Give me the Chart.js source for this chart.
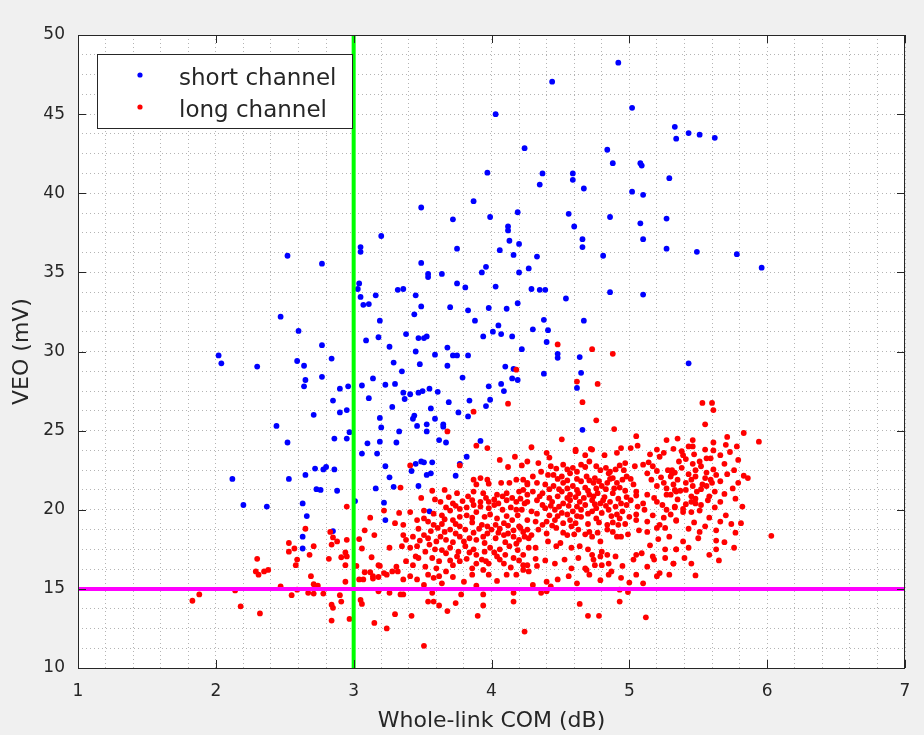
<!DOCTYPE html>
<html>
<head>
<meta charset="utf-8">
<title>VEO vs Whole-link COM</title>
<script src="https://cdn.jsdelivr.net/npm/chart.js@4"></script>
<style>
  body { margin: 0; background: #f0f0f0; }
  #contenedor_graf { width: 924px; height: 735px; }
</style>
</head>
<body>
<div id="contenedor_graf"><canvas id="myChart" width="924" height="735"></canvas></div>
<script>
const xRange = [1, 7];
const yRange = [10, 50];
const xTicks = [1, 2, 3, 4, 5, 6, 7];
const yTicks = [10, 15, 20, 25, 30, 35, 40, 45, 50];
const comLimit = 3;
const veoLimit = 15;
const seriesNames = ['short channel', 'long channel'];

// [COM dB, VEO mV]
const shortChannel = [
  [4.92,48.25],[4.44,47.05],[4.03,45.0],[5.02,45.4],[4.24,42.85],[4.84,42.75],[4.88,41.9],[5.33,44.2],
  [5.34,43.45],[5.43,43.8],[5.51,43.7],[5.62,43.5],[5.08,41.9],[5.09,41.75],[5.29,40.95],[5.02,40.1],
  [5.10,39.9],[5.27,38.4],[5.08,38.1],[5.10,37.1],[5.27,36.5],[5.49,36.3],[3.97,41.3],[4.37,41.25],
  [4.59,41.25],[4.59,40.85],[4.35,40.55],[4.67,40.3],[3.87,39.5],[3.49,39.1],[3.72,38.35],[3.99,38.5],
  [4.19,38.8],[4.56,38.7],[4.86,38.5],[4.12,37.9],[4.12,37.65],[4.60,37.9],[3.20,37.3],[4.66,37.1],
  [4.13,37.0],[4.20,36.8],[4.66,36.6],[3.05,36.6],[3.75,36.5],[4.06,36.4],
  [4.81,36.05],[5.78,36.15],[5.96,35.3],[4.86,33.75],[5.10,33.6],[5.43,29.25],
  [2.52,36.05],[3.05,36.3],[2.77,35.55],[3.04,34.3],[3.03,33.95],[3.05,33.45],[3.16,33.55],[3.32,33.9],
  [2.47,32.2],[3.07,32.95],[3.11,33.0],[3.19,31.95],[2.60,31.3],[3.09,30.7],[3.18,30.9],[2.77,30.4],
  [3.26,30.3],[2.02,29.75],[2.04,29.25],[2.30,29.05],[2.59,29.4],[2.64,29.1],[2.84,29.55],[3.29,29.3],
  [2.77,28.4],[2.65,28.2],[2.64,27.8],[3.14,28.3],[3.23,27.9],[3.30,27.95],[2.96,27.8],[2.90,27.65],
  [3.06,27.85],[2.85,26.9],[3.11,27.05],[3.28,26.5],[2.90,26.15],[2.95,26.3],[2.71,26.0],[3.19,25.8],
  [3.20,25.2],[2.44,25.3],[3.33,24.95],[2.97,24.9],[2.86,24.5],[2.95,24.5],[2.52,24.25],[3.10,24.2],
  [3.19,24.3],[3.31,24.25],
  [3.06,23.55],[3.17,23.55],[2.72,22.6],[2.78,22.55],[2.80,22.7],[2.86,22.55],[2.65,22.2],[2.12,21.95],
  [2.53,21.95],[2.73,21.3],[2.76,21.25],[2.88,21.2],[3.16,21.35],[2.20,20.3],[2.37,20.2],[2.63,20.4],
  [2.66,19.6],[2.85,18.65],[2.63,18.3],[2.63,17.55],[3.01,20.55],
  [4.16,36.1],[4.33,36.0],[3.49,35.6],[3.96,35.35],[3.93,35.0],[4.20,35.0],[4.27,35.25],[3.54,34.9],
  [3.54,34.7],[3.64,34.9],[3.75,34.3],[3.81,34.05],[4.03,34.1],[3.36,33.95],[4.29,33.95],[4.35,33.9],
  [4.39,33.9],[3.45,33.55],[4.54,33.35],[3.49,32.85],[3.70,32.8],[3.98,32.75],[4.11,32.7],[4.19,33.05],
  [3.44,32.35],[3.83,32.6],[3.88,31.95],[4.38,32.0],[4.67,31.95],[4.05,31.65],[4.30,31.4],[4.41,31.35],
  [3.38,31.1],[4.01,31.25],[4.07,31.1],[4.15,30.95],[3.94,30.95],[3.47,30.85],[3.51,30.85],[3.53,30.95],
  [4.40,30.6],[3.45,30.0],[3.68,30.25],[4.22,30.15],[3.59,29.8],[3.72,29.75],[3.75,29.75],[3.83,29.75],
  [4.48,29.85],[4.48,29.6],[4.64,29.65],[3.48,29.2],[3.68,29.1],[4.10,29.05],[4.16,28.9],[3.35,28.75],
  [4.38,28.6],[4.65,28.65],[3.79,28.35],[4.15,28.3],[4.19,28.2],[3.98,27.8],[4.07,27.95],[4.62,27.7],
  [3.36,27.4],[3.41,27.3],[3.47,27.4],[3.50,27.5],[3.55,27.65],[3.61,27.45],[4.09,27.5],[3.37,27.0],
  [3.84,26.9],[3.99,26.95],[3.56,26.4],[3.69,26.8],[3.96,26.55],[3.76,26.15],[3.83,25.9],[3.44,25.95],
  [3.43,25.75],[3.59,25.75],[3.46,25.3],[3.53,25.4],[3.65,25.4],[3.65,25.25],[3.53,24.95],[4.66,25.05],
  [3.62,24.4],[3.67,24.25],[3.92,24.35],
  [3.23,22.75],[3.42,22.45],[3.45,22.9],[3.49,23.05],[3.51,23.0],[3.57,23.0],[3.53,22.2],[3.56,22.3],
  [3.74,22.15],[3.77,22.9],[3.82,23.35],[3.26,22.05],[3.29,21.45],[3.47,21.5],[3.22,20.45],[3.55,19.9],
  [3.23,19.35]
];

const longChannel = [
  [4.48,30.45],[4.73,30.15],[4.88,29.85],[4.18,28.85],[4.62,28.1],[4.77,27.95],[4.12,26.7],[4.66,26.8],
  [4.76,25.65],[3.87,26.2],[3.68,24.95],[4.51,24.45],[3.89,24.05],[3.97,23.9],[4.29,23.95],[4.61,23.8],
  [4.72,23.85],[4.89,25.1],[5.53,26.75],[5.60,26.75],[5.61,26.3],[5.55,25.4],[5.05,24.65],[5.83,24.85],
  [5.27,24.4],[5.35,24.5],[5.46,24.4],[5.71,24.6],[5.94,24.3],[5.61,24.25],[4.94,23.9],[5.06,24.05],
  [5.43,24.0],[5.78,24.0],
  [2.95,20.2],[3.12,19.5],[2.65,18.8],[3.08,18.7],[3.15,18.4],[2.83,18.6],[2.85,18.25],[2.88,18.0],
  [2.95,18.1],[3.04,18.15],[2.53,17.9],[2.53,17.35],[2.57,17.55],[2.71,17.7],[2.84,17.8],[3.06,17.55],
  [2.94,17.3],[2.91,17.0],[2.95,17.05],[2.68,17.15],[2.82,16.9],[2.30,16.9],[2.59,16.85],[3.13,17.0],
  [2.58,16.5],[2.94,16.5],[3.02,16.45],[3.18,16.5],[2.29,16.1],[2.31,15.9],[2.35,16.1],[2.38,16.2],
  [2.69,15.8],[3.08,16.05],[3.12,16.05],[3.04,15.6],[3.07,15.6],[3.14,15.65],[3.18,15.75],[2.71,15.3],
  [2.74,15.2],[2.94,15.45],[2.47,15.15],[2.14,14.9],[2.59,14.95],[1.88,14.65],[1.83,14.25],[2.67,14.75],
  [2.71,14.7],[2.78,14.7],[2.55,14.6],[2.90,14.6],[3.05,14.3],[2.91,14.2],[3.06,14.05],[2.84,14.0],
  [2.85,13.8],[2.18,13.9],[2.32,13.45],[2.84,13.0],[2.97,13.1],[3.15,12.85],
  [3.41,22.8],[3.77,22.8],[4.06,23.15],[4.17,23.35],[4.26,23.05],[4.12,22.7],[4.22,22.8],[3.34,21.4],
  [3.87,21.9],[3.92,22.0],[3.97,21.9],[3.89,21.6],[3.98,21.65],[4.07,21.7],[4.13,21.7],[4.18,21.9],
  [4.26,21.7],[4.23,21.25],[3.57,21.2],[3.66,21.25],[3.75,21.05],[3.49,20.75],[3.59,20.65],[3.69,20.8],
  [3.87,21.15],[3.94,21.05],[4.04,20.95],[4.11,21.05],[4.20,21.15],[4.26,20.95],[3.86,20.6],[3.92,20.5],
  [3.98,20.5],[4.05,20.4],[4.11,20.6],[4.18,20.5],[4.24,20.4],[3.22,19.95],[3.33,19.8],[3.41,19.85],
  [3.51,19.95],[3.64,19.65],[3.70,19.95],[3.77,20.05],[3.82,20.15],[3.72,19.35],[3.77,19.55],[3.82,19.65],
  [3.89,19.85],[3.92,20.2],[3.95,19.55],[3.93,19.05],[3.97,18.95],[4.03,19.05],[4.09,19.15],[4.15,19.35],
  [4.20,18.95],[4.26,19.35],[4.23,18.6],[3.30,19.15],[3.36,19.05],[3.51,19.45],[3.54,19.25],[3.58,19.05],
  [3.61,18.85],[3.70,18.75],[3.77,18.95],[3.81,18.75],[3.36,18.4],[3.38,18.1],[3.43,18.3],[3.51,18.4],
  [3.54,18.2],[3.63,18.3],[3.67,18.1],[3.77,18.3],[3.84,18.2],[3.89,18.1],[3.94,18.3],[4.03,18.2],
  [4.09,18.4],[4.16,18.3],[4.20,18.1],[4.27,18.2],[3.35,17.7],[3.41,17.6],[3.46,17.7],[3.55,17.8],
  [3.59,17.5],[3.70,17.6],[3.81,17.7],[3.87,17.5],[3.99,17.6],[4.06,17.5],[4.13,17.7],[3.26,17.6],
  [3.45,17.05],[3.57,16.95],[3.67,17.25],[3.75,17.05],[3.89,17.15],[3.93,16.85],[4.04,17.05],[4.10,17.15],
  [4.16,16.95],[4.23,17.15],[3.43,16.5],[3.52,16.4],[3.60,16.3],[3.72,16.5],[3.86,16.3],[3.89,16.6],
  [3.98,16.6],[4.09,16.6],[4.26,16.5],[3.19,16.45],[3.31,16.4],[3.22,16.0],[3.28,16.1],[3.32,16.1],
  [3.14,15.8],[3.24,15.9],[3.36,15.6],[3.41,15.8],[3.46,15.6],[3.54,15.9],[3.58,15.7],[3.62,15.8],
  [3.67,16.1],[3.86,15.9],[3.98,15.9],[4.04,15.5],[4.11,15.9],[4.18,15.9],[4.23,16.2],[3.51,15.25],
  [3.18,14.85],[3.26,14.75],[3.34,14.65],[3.36,14.65],[3.57,14.75],[3.78,14.65],[3.94,14.65],[4.16,14.75],
  [3.54,14.2],[3.58,14.2],[3.62,13.95],[3.74,14.1],[3.94,13.95],[4.16,14.2],[3.30,13.4],[3.42,13.3],
  [3.68,13.6],[3.90,13.3],[3.24,12.5],[4.24,12.3],[3.51,11.4],
  [4.40,23.6],[4.42,23.3],[4.61,23.7],[4.68,23.45],[4.73,23.8],[4.82,23.45],[4.91,23.6],[5.01,23.9],
  [5.20,23.8],[4.43,22.75],[4.52,22.85],[4.59,22.65],[4.65,22.85],[4.71,23.05],[4.79,22.5],[4.86,22.4],
  [4.93,22.8],[4.96,22.5],[5.04,22.75],[5.10,22.85],[5.17,22.75],[5.22,23.35],[5.28,22.5],[5.31,22.3],
  [4.36,22.4],[4.23,21.9],[4.30,22.1],[4.45,22.2],[4.51,22.1],[4.57,22.3],[4.69,22.1],[4.75,22.0],
  [4.85,22.3],[4.88,22.0],[4.98,22.1],[5.13,22.3],[5.16,21.9],[4.26,21.6],[4.33,21.7],[4.39,21.6],
  [4.45,21.5],[4.52,21.7],[4.59,21.5],[4.65,21.8],[4.68,21.4],[4.74,21.7],[4.80,21.5],[4.84,21.7],
  [4.91,21.7],[4.93,21.4],[5.03,21.6],[5.05,21.15],[5.20,21.5],[5.25,21.7],[5.32,21.6],[4.30,21.15],
  [4.37,21.05],[4.51,21.15],[4.57,20.95],[4.63,21.05],[4.71,20.95],[4.77,21.05],[4.82,20.8],[4.88,21.05],
  [4.98,20.8],[5.13,20.95],[5.27,20.95],[5.34,21.15],[4.26,20.5],[4.33,20.6],[4.44,20.5],[4.52,20.4],
  [4.57,20.6],[4.64,20.5],[4.73,20.6],[4.79,20.4],[4.86,20.5],[4.94,20.4],[5.01,20.6],[5.10,20.4],
  [5.20,20.5],[5.27,20.0],[5.33,20.2],[4.22,20.0],[4.29,19.9],[4.39,20.1],[4.46,20.0],[4.51,19.8],
  [4.59,19.9],[4.65,20.0],[4.76,20.1],[4.80,19.8],[4.85,20.0],[4.91,19.7],[5.05,19.7],[5.11,20.0],
  [4.32,19.25],[4.40,19.25],[4.46,19.35],[4.57,19.35],[4.65,19.55],[4.76,19.45],[4.84,19.05],[4.93,19.45],
  [5.05,19.35],[5.13,19.25],[5.34,19.35],[4.21,18.85],[4.26,18.75],[4.34,18.75],[4.47,18.85],[4.58,18.95],
  [4.63,18.75],[4.71,18.6],[4.84,18.75],[4.92,19.05],[5.13,18.6],[5.20,18.85],[5.26,18.85],[4.24,18.3],
  [4.29,18.4],[4.41,18.0],[4.50,17.9],[4.55,18.4],[4.73,18.3],[4.79,18.0],[4.91,18.3],[4.94,18.3],
  [5.21,18.15],[4.27,17.6],[4.32,17.6],[4.47,17.7],[4.58,17.6],[4.64,17.7],[4.70,17.5],[4.80,17.35],
  [5.26,17.5],[5.34,17.5],[4.32,16.9],[4.39,16.8],[4.73,17.15],[4.74,16.85],[4.79,17.05],[4.84,17.15],
  [4.90,17.05],[5.05,17.15],[5.09,17.25],[5.03,16.85],[5.26,16.95],[4.23,16.5],[4.27,16.1],[4.58,16.3],
  [4.68,16.3],[4.75,16.5],[4.80,16.5],[4.85,16.6],[5.32,16.6],[4.56,15.8],[4.69,16.2],[4.71,15.9],
  [4.85,15.9],[4.87,16.1],[4.94,15.7],[5.05,15.9],[5.20,15.8],[5.22,16.0],[5.10,15.35],[4.62,15.35],
  [4.30,15.25],[4.40,15.45],[4.43,15.15],[4.36,14.75],[4.40,14.85],[4.93,14.95],[4.99,14.8],[4.64,14.05],
  [4.93,14.2],[4.70,13.3],[4.78,13.3],[5.12,13.2],
  [5.46,24.0],[5.38,23.7],[5.55,23.8],[5.61,23.75],[5.73,23.65],[5.39,23.45],[5.41,23.2],[5.51,23.05],
  [5.56,23.25],[5.59,23.25],[5.79,23.15],[5.46,22.9],[5.69,22.9],[5.31,22.5],[5.33,22.35],[5.48,22.5],
  [5.63,22.2],[5.83,22.15],[5.86,22.0],[5.30,22.1],[5.35,21.9],[5.45,21.9],[5.48,22.1],[5.55,22.0],
  [5.59,21.9],[5.41,21.7],[5.53,21.6],[5.56,21.5],[5.60,21.7],[5.79,21.7],[5.33,21.25],[5.37,21.2],
  [5.41,21.25],[5.49,21.15],[5.62,21.15],[5.69,21.0],[5.30,20.95],[5.35,20.65],[5.45,20.85],[5.48,20.7],
  [5.45,20.5],[5.48,20.4],[5.52,20.3],[5.66,20.5],[5.33,20.15],[5.39,20.05],[5.39,19.85],[5.45,19.85],
  [5.82,20.2],[5.70,19.65],[5.34,19.3],[5.74,19.1],[5.81,19.15],[5.43,18.8],[5.55,18.95],[5.51,18.6],
  [6.03,18.35],[5.39,18.0],[5.63,18.05],[5.69,17.95],[5.34,17.5],[5.63,17.5],[5.65,16.8],[5.32,16.6],
  [5.45,16.6],[5.48,15.85],
  // overlapping dots of the dense core
  [4.34,22.95],[4.47,22.6],[4.55,22.55],[4.62,22.4],[4.68,22.7],[4.76,22.75],[4.83,22.65],[4.90,22.55],
  [4.97,22.95],[4.41,22.2],[4.48,21.95],[4.55,21.85],[4.62,21.95],[4.71,21.85],[4.78,21.8],[4.86,21.95],
  [4.95,21.9],[5.01,21.95],[4.42,21.3],[4.49,21.3],[4.55,21.35],[4.62,21.25],[4.70,21.2],[4.76,21.35],
  [4.83,21.3],[4.89,21.35],[4.97,21.2],[4.35,20.85],[4.42,20.75],[4.48,20.85],[4.55,20.75],[4.61,20.8],
  [4.67,20.75],[4.74,20.85],[4.81,20.6],[4.92,20.7],[5.05,20.9],[4.37,20.3],[4.43,20.25],[4.49,20.2],
  [4.56,20.25],[4.62,20.2],[4.68,20.3],[4.75,20.35],[4.83,20.25],[4.90,20.2],[4.98,20.3],[5.06,20.2],
  [4.33,19.75],[4.42,19.65],[4.48,19.6],[4.55,19.7],[4.62,19.6],[4.70,19.75],[4.73,19.9],[4.87,19.6],
  [4.95,19.9],[5.00,19.55],[4.37,19.05],[4.44,19.0],[4.52,19.15],[4.61,19.15],[4.70,19.1],[4.78,19.2],
  [4.88,19.2],[4.97,19.1],[4.40,18.5],[4.52,18.55],[4.60,18.45],[4.68,18.45],[4.77,18.55],[4.88,18.6],
  [4.99,18.45],[5.07,18.7],
  [3.63,20.5],[3.72,20.4],[3.79,20.55],[3.83,20.85],[3.96,20.75],[4.02,20.65],[4.08,20.85],[4.15,20.75],
  [4.21,20.7],[3.67,20.15],[3.74,20.25],[3.87,20.3],[3.98,20.1],[4.02,20.3],[4.08,20.0],[4.14,20.15],
  [4.18,20.0],[3.58,19.75],[3.66,19.4],[3.86,19.5],[3.99,19.7],[4.04,19.45],[4.11,19.6],[4.19,19.65],
  [3.46,19.35],[3.64,19.1],[3.74,19.1],[3.86,19.2],[3.91,18.8],[4.00,18.75],[4.06,18.8],[4.12,19.0],
  [4.16,18.7],[3.47,18.8],[3.56,18.65],[3.66,18.6],[3.74,18.5],[3.87,18.55],[3.97,18.5],[4.05,18.55],
  [4.12,18.5],[3.48,18.05],[3.60,18.0],[3.72,17.95],[3.80,18.0],[3.95,17.9],[4.10,17.95],[4.18,17.85],
  [3.52,17.35],[3.64,17.45],[3.76,17.35],[3.84,17.3],[3.95,17.35],[4.02,17.3],[4.19,17.45],[3.62,16.75],
  [3.70,16.8],[3.82,16.9],[3.96,16.75],[4.06,16.85],[4.20,16.8],
  [5.15,23.5],[5.25,23.6],[5.32,23.85],[5.47,23.5],[5.66,23.45],[5.70,24.1],[5.14,23.0],[5.36,23.05],
  [5.52,22.75],[5.61,22.55],[5.76,22.5],[5.20,22.45],[5.38,22.65],[5.43,22.25],[5.56,22.35],[5.71,22.25],
  [5.23,22.05],[5.66,21.8],[5.75,21.35],[5.27,21.35],[5.46,21.5],[5.52,21.3],[5.58,20.85],[5.18,20.75],
  [5.24,20.3],[5.41,20.35],[5.57,20.6],[5.62,20.15],[5.77,20.7],[5.17,19.65],[5.25,19.5],[5.30,19.7],
  [5.51,19.95],[5.58,19.5],[5.66,19.25],[5.22,19.05],[5.47,19.2],[5.63,18.7],[5.77,18.55],[5.29,18.3],
  [5.50,18.2],[5.15,17.75],[5.43,17.6],[5.58,17.15],[5.18,16.85],[5.40,16.95],[5.76,17.6],
  [3.47,16.95],[3.38,16.75],[3.77,16.75],[3.94,16.2],[4.14,16.35],[4.33,16.45],[4.46,16.6],[4.53,16.85],
  [4.63,16.95],[4.95,16.45],[5.13,16.4],[5.17,17.05],[3.72,15.75],[3.80,15.45],[4.48,15.6],[4.79,15.55],
  [5.00,15.4],[5.29,15.9],[3.64,15.35],[3.89,15.2]
];

const fuente = 'DejaVu Sans, Lucida Grande, sans-serif';
const tinta = '#262626';

function toPoints(lista) {
  return lista.map(function (p) { return { x: p[0], y: p[1] }; });
}

function isTick(v, lista) {
  return lista.some(function (t) { return Math.abs(t - v) < 1e-6; });
}

// white axes area, drawn before the grid
const fondo = {
  id: 'fondo',
  beforeDraw: function (chart) {
    const a = chart.chartArea, ctx = chart.ctx;
    ctx.save();
    ctx.fillStyle = '#ffffff';
    ctx.fillRect(a.left, a.top, a.right - a.left, a.bottom - a.top);
    ctx.restore();
  }
};

// box round the axes with inward tick marks, plus boxed legend
const caja = {
  id: 'caja',
  afterDraw: function (chart) {
    const a = chart.chartArea, ctx = chart.ctx;
    const sx = chart.scales.x, sy = chart.scales.y;
    const largo = 8;
    ctx.save();
    ctx.strokeStyle = tinta;
    ctx.lineWidth = 1;
    ctx.beginPath();
    xTicks.forEach(function (t) {
      const px = Math.round(sx.getPixelForValue(t)) + 0.5;
      ctx.moveTo(px, a.bottom); ctx.lineTo(px, a.bottom - largo);
      ctx.moveTo(px, a.top); ctx.lineTo(px, a.top + largo);
    });
    yTicks.forEach(function (t) {
      const py = Math.round(sy.getPixelForValue(t)) + 0.5;
      ctx.moveTo(a.left, py); ctx.lineTo(a.left + largo, py);
      ctx.moveTo(a.right, py); ctx.lineTo(a.right - largo, py);
    });
    ctx.stroke();
    ctx.strokeRect(a.left + 0.5, a.top + 0.5, a.right - a.left - 1, a.bottom - a.top);

    // legend
    const lx = a.left + 19, ly = a.top + 19, lw = 255, lh = 74;
    ctx.fillStyle = '#ffffff';
    ctx.fillRect(lx, ly, lw, lh);
    ctx.strokeRect(lx + 0.5, ly + 0.5, lw, lh);
    ctx.font = '23px ' + fuente;
    ctx.textBaseline = 'alphabetic';
    ctx.textAlign = 'left';
    chart.data.datasets.slice(0, 2).forEach(function (ds, i) {
      const cy = ly + 21 + i * 32;
      ctx.fillStyle = ds.backgroundColor;
      ctx.beginPath();
      ctx.arc(lx + 43, cy, 2.6, 0, Math.PI * 2);
      ctx.fill();
      ctx.fillStyle = tinta;
      ctx.fillText(ds.label, lx + 82, cy + 10);
    });
    ctx.restore();
  }
};

const ctx = document.getElementById('myChart');
const myChart = new Chart(ctx, {
  type: 'scatter',
  data: {
    datasets: [
      {
        label: seriesNames[0],
        data: toPoints(shortChannel),
        backgroundColor: '#0000ff',
        borderWidth: 0,
        pointRadius: 2.9,
        order: 3
      },
      {
        label: seriesNames[1],
        data: toPoints(longChannel),
        backgroundColor: '#ff0000',
        borderWidth: 0,
        pointRadius: 2.9,
        order: 2
      },
      {
        label: 'COM limit',
        type: 'line',
        data: [{ x: comLimit, y: yRange[0] }, { x: comLimit, y: yRange[1] }],
        borderColor: '#00ff00',
        borderWidth: 4,
        pointRadius: 0,
        order: 1
      },
      {
        label: 'VEO limit',
        type: 'line',
        data: [{ x: xRange[0], y: veoLimit }, { x: xRange[1], y: veoLimit }],
        borderColor: '#ff00ff',
        borderWidth: 4,
        pointRadius: 0,
        order: 0
      }
    ]
  },
  options: {
    responsive: false,
    animation: false,
    devicePixelRatio: 1,
    layout: { padding: { top: 35, right: 19, left: 0, bottom: 0 } },
    plugins: {
      legend: { display: false },
      tooltip: { enabled: false }
    },
    scales: {
      x: {
        type: 'linear',
        min: xRange[0],
        max: xRange[1],
        afterFit: function (s) { s.height = 67; },
        ticks: {
          stepSize: 0.2,
          autoSkip: false,
          maxRotation: 0,
          padding: 13,
          color: tinta,
          font: { family: fuente, size: 17 },
          callback: function (v) { return isTick(v, xTicks) ? String(Math.round(v)) : ''; }
        },
        grid: { color: '#b4b4b4', lineWidth: 1, drawTicks: false },
        border: { display: false, dash: [1, 3] },
        title: {
          display: true,
          text: 'Whole-link COM (dB)',
          color: tinta,
          font: { family: fuente, size: 22 },
          padding: { top: 0, bottom: 1 }
        }
      },
      y: {
        type: 'linear',
        min: yRange[0],
        max: yRange[1],
        afterFit: function (s) { s.width = 78; },
        ticks: {
          stepSize: 1.25,
          autoSkip: false,
          padding: 13,
          color: tinta,
          font: { family: fuente, size: 17 },
          callback: function (v) { return isTick(v, yTicks) ? String(Math.round(v)) : ''; }
        },
        grid: { color: '#b4b4b4', lineWidth: 1, drawTicks: false },
        border: { display: false, dash: [1, 3] },
        title: {
          display: true,
          text: 'VEO (mV)',
          color: tinta,
          font: { family: fuente, size: 22 },
          padding: { top: 9, bottom: 0 }
        }
      }
    }
  },
  plugins: [fondo, caja]
});
</script>
</body>
</html>
